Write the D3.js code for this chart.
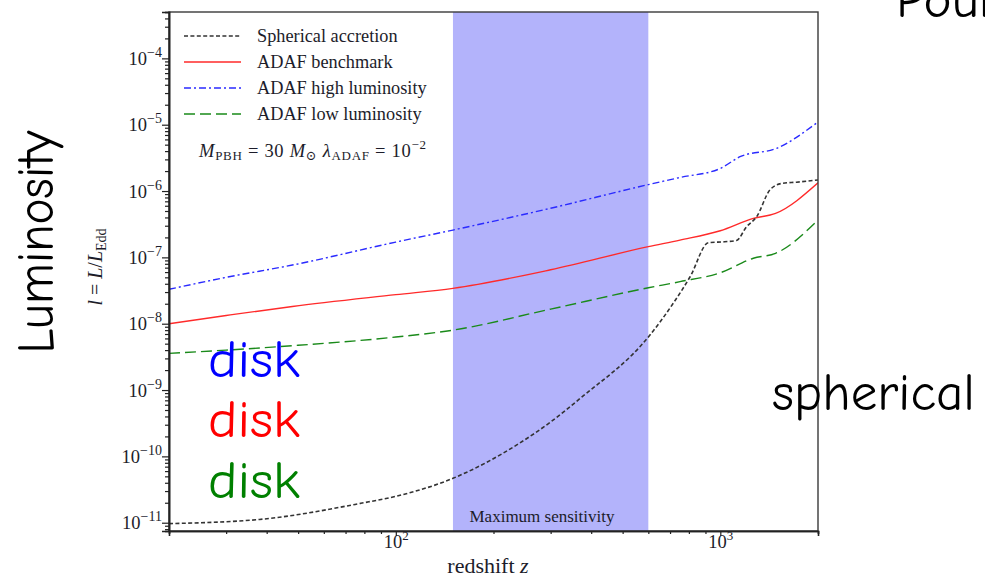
<!DOCTYPE html>
<html>
<head>
<meta charset="utf-8">
<script src="https://cdn.jsdelivr.net/npm/d3@7"></script>
<style>
  html, body { margin: 0; padding: 0; background: #fff; }
  svg { display: block; }
  .serif { font-family: "Liberation Serif", "DejaVu Serif", serif; fill: #1c1c2a; }
  .hand { font-family: "Comic Sans MS", "Comic Neue", "Lato", sans-serif; }
</style>
</head>
<body>
<svg id="chart" width="985" height="578"></svg>
<script>
// Redshift grid and dimensionless luminosity l = L/L_Edd for each accretion model
const sphericalZ = [20, 38, 78, 100, 150, 241, 300, 370, 607, 716, 807, 919, 1030, 1122, 1205, 1294, 1422, 1545, 1718, 2000];
const sphericalL = [9.7e-12, 1.12e-11, 1.96e-11, 2.5e-11, 4.67e-11, 1.59e-10, 3.3e-10, 7.5e-10, 6.75e-9, 2.03e-8, 5.1e-8, 1.66e-7, 1.72e-7, 1.8e-7, 2.9e-7, 4.1e-7, 1.04e-6, 1.30e-6, 1.36e-6, 1.47e-6];

const benchmarkZ = [20, 30, 48, 100, 150, 300, 600, 751, 1000, 1264, 1480, 2000];
const benchmarkL = [1.0e-8, 1.33e-8, 1.82e-8, 2.74e-8, 3.41e-8, 6.5e-8, 1.45e-7, 1.82e-7, 2.52e-7, 3.87e-7, 4.6e-7, 1.33e-6];

const highZ = [20, 30, 48, 100, 150, 300, 600, 751, 1000, 1150, 1490, 2000];
const highL = [3.3e-8, 5.0e-8, 7.66e-8, 1.7e-7, 2.58e-7, 5.5e-7, 1.25e-6, 1.6e-6, 2.19e-6, 3.29e-6, 4.4e-6, 1.1e-5];

const lowZ = [20, 30, 48, 100, 150, 300, 600, 751, 1000, 1264, 1480, 2000];
const lowL = [3.57e-9, 4.0e-9, 4.66e-9, 6.3e-9, 8.0e-9, 1.66e-8, 3.48e-8, 4.3e-8, 5.87e-8, 9.7e-8, 1.15e-7, 3.66e-7];

// Maximum-sensitivity redshift window
const sensitivityBand = [150, 600];

// Axis ticks
const yMajorExponents = [-11, -10, -9, -8, -7, -6, -5, -4];
const xMajorExponents = [2, 3];

const seriesNames = ["Spherical accretion", "ADAF benchmark", "ADAF high luminosity", "ADAF low luminosity"];
const seriesColors = ["#333333", "#ff2a2a", "#2a2aff", "#1a8a1a"];
const seriesDash = ["4,2.4", null, "7,3,2,3", "11,5"];

const svg = d3.select("#chart");

const x = d3.scaleLog().domain([20, 2000]).range([169, 818]);
const y = d3.scaleLog().domain([7.5e-12, 5e-4]).range([531, 12]);

const x0 = x.range()[0], x1 = x.range()[1];
const yTop = y.range()[1], yBot = y.range()[0];

svg.append("defs").append("clipPath").attr("id", "plotClip")
  .append("rect").attr("x", x0).attr("y", yTop).attr("width", x1 - x0).attr("height", yBot - yTop);

// shaded band
svg.append("rect")
  .attr("x", x(sensitivityBand[0]))
  .attr("y", yTop)
  .attr("width", x(sensitivityBand[1]) - x(sensitivityBand[0]))
  .attr("height", yBot - yTop)
  .attr("fill", "#b3b3fb");

svg.append("text").attr("class", "serif")
  .attr("x", 542)
  .attr("y", 522)
  .attr("text-anchor", "middle")
  .attr("font-size", 17)
  .text("Maximum sensitivity");

// curves
const line = d3.line()
  .x(d => x(d[0]))
  .y(d => y(d[1]))
  .curve(d3.curveMonotoneX);

const seriesData = [
  d3.zip(sphericalZ, sphericalL),
  d3.zip(benchmarkZ, benchmarkL),
  d3.zip(highZ, highL),
  d3.zip(lowZ, lowL)
];

const curves = svg.append("g").attr("clip-path", "url(#plotClip)");
// draw order: low, high, benchmark, spherical on top
[3, 2, 1, 0].forEach(i => {
  curves.append("path")
    .attr("d", line(seriesData[i]))
    .attr("fill", "none")
    .attr("stroke", seriesColors[i])
    .attr("stroke-width", i === 0 ? 1.6 : 1.4)
    .attr("stroke-dasharray", seriesDash[i]);
});

// frame
svg.append("rect")
  .attr("x", x0).attr("y", yTop)
  .attr("width", x1 - x0).attr("height", yBot - yTop)
  .attr("fill", "none").attr("stroke", "#3a3a3a").attr("stroke-width", 1.4);

// y axis: minor ticks
const yMinor = [];
yMajorExponents.concat([-12]).forEach(e => {
  for (let k = 2; k <= 9; k++) {
    const v = k * Math.pow(10, e);
    if (v >= y.domain()[0] && v <= y.domain()[1]) yMinor.push(v);
  }
});
const yMinorAxis = svg.append("g").attr("transform", `translate(${x0},0)`)
  .call(d3.axisLeft(y).tickValues(yMinor).tickSize(4).tickFormat(""));
const yMajorAxis = svg.append("g").attr("transform", `translate(${x0},0)`)
  .call(d3.axisLeft(y).tickValues(yMajorExponents.map(e => Math.pow(10, e))).tickSize(7).tickFormat(""));

[yMinorAxis, yMajorAxis].forEach(g => {
  g.select(".domain").attr("stroke", "#222").attr("stroke-width", 1.6);
  g.selectAll(".tick line").attr("stroke", "#222").attr("stroke-width", 1.2);
});

yMajorAxis.selectAll(".tick").each(function(d) {
  const e = Math.round(Math.log10(d));
  const t = d3.select(this).append("text")
    .attr("class", "serif")
    .attr("x", -7).attr("y", 6)
    .attr("text-anchor", "end")
    .attr("font-size", 18.5);
  t.append("tspan").text("10");
  t.append("tspan").attr("dy", -8).attr("font-size", 14).text("\u2212" + Math.abs(e));
});

// x axis
const xMinor = [];
[1, 2, 3].forEach(e => {
  for (let k = 2; k <= 9; k++) {
    const v = k * Math.pow(10, e);
    if (v >= x.domain()[0] && v <= x.domain()[1]) xMinor.push(v);
  }
});
const xMinorAxis = svg.append("g").attr("transform", `translate(0,${yBot})`)
  .call(d3.axisBottom(x).tickValues(xMinor).tickSize(3).tickFormat(""));
const xMajorAxis = svg.append("g").attr("transform", `translate(0,${yBot})`)
  .call(d3.axisBottom(x).tickValues(xMajorExponents.map(e => Math.pow(10, e))).tickSize(5).tickFormat(""));
[xMinorAxis, xMajorAxis].forEach(g => {
  g.select(".domain").attr("stroke", "#222").attr("stroke-width", 1.6);
  g.selectAll(".tick line").attr("stroke", "#222").attr("stroke-width", 1.2);
});
xMajorAxis.selectAll(".tick").each(function(d) {
  const e = Math.round(Math.log10(d));
  const t = d3.select(this).append("text")
    .attr("class", "serif")
    .attr("x", 0).attr("y", 17)
    .attr("text-anchor", "middle")
    .attr("font-size", 18.5);
  t.append("tspan").text("10");
  t.append("tspan").attr("dy", -8).attr("font-size", 13).text(e);
});

// axis titles
const xt = svg.append("text").attr("class", "serif")
  .attr("x", 488).attr("y", 573)
  .attr("text-anchor", "middle").attr("font-size", 22);
xt.append("tspan").text("redshift ");
xt.append("tspan").attr("font-style", "italic").text("z");

const yt = svg.append("text").attr("class", "serif")
  .attr("transform", "translate(102,267) rotate(-90)")
  .attr("text-anchor", "middle").attr("font-size", 20);
yt.append("tspan").attr("font-style", "italic").text("l");
yt.append("tspan").text(" = ");
yt.append("tspan").attr("font-style", "italic").text("L");
yt.append("tspan").text("/");
yt.append("tspan").attr("font-style", "italic").text("L");
yt.append("tspan").attr("dy", 4).attr("font-size", 14).text("Edd");

// legend
const legend = svg.append("g");
seriesNames.forEach((name, i) => {
  const ly = 36 + i * 26;
  legend.append("line")
    .attr("x1", 184).attr("x2", 241).attr("y1", ly).attr("y2", ly)
    .attr("stroke", seriesColors[i]).attr("stroke-width", 1.4)
    .attr("stroke-dasharray", seriesDash[i]);
  legend.append("text").attr("class", "serif")
    .attr("x", 257).attr("y", ly + 6)
    .attr("font-size", 18.3)
    .text(name);
});

// parameter annotation
const ann = svg.append("text").attr("class", "serif")
  .attr("x", 199).attr("y", 157).attr("font-size", 18.5)
  .attr("textLength", 227).attr("lengthAdjust", "spacing");
ann.append("tspan").attr("font-style", "italic").text("M");
ann.append("tspan").attr("dy", 3).attr("font-size", 13).text("PBH");
ann.append("tspan").attr("dy", -3).text(" = 30 ");
ann.append("tspan").attr("font-style", "italic").text("M");
ann.append("tspan").attr("dy", 3).attr("font-size", 13).text("\u2299");
ann.append("tspan").attr("dy", -3).attr("font-style", "italic").text(" \u03bb");
ann.append("tspan").attr("dy", 3).attr("font-size", 13).text("ADAF");
ann.append("tspan").attr("dy", -3).text(" = 10");
ann.append("tspan").attr("dy", -8).attr("font-size", 13).text("\u22122");

// large slide labels
svg.append("text").attr("class", "hand")
  .attr("transform", "translate(53,242) rotate(-90)")
  .attr("text-anchor", "middle").attr("font-size", 52).attr("fill", "#000")
  .attr("textLength", 223).attr("lengthAdjust", "spacingAndGlyphs")
  .text("Luminosity");

const diskColors = ["#0000ff", "#ff0000", "#008000"];
const diskBaselines = [377, 437, 498];
diskColors.forEach((c, i) => {
  svg.append("text").attr("class", "hand")
    .attr("x", 208).attr("y", diskBaselines[i])
    .attr("font-size", 52).attr("fill", c)
    .attr("textLength", 92).attr("lengthAdjust", "spacingAndGlyphs")
    .text("disk");
});

svg.append("text").attr("class", "hand")
  .attr("x", 772).attr("y", 410)
  .attr("font-size", 52).attr("fill", "#000")
  .attr("textLength", 203).attr("lengthAdjust", "spacingAndGlyphs")
  .text("spherical");

svg.append("text").attr("class", "hand")
  .attr("x", 896).attr("y", 17)
  .attr("font-size", 52).attr("fill", "#000")
  .attr("textLength", 104).attr("lengthAdjust", "spacingAndGlyphs")
  .text("Pour");
</script>
</body>
</html>
